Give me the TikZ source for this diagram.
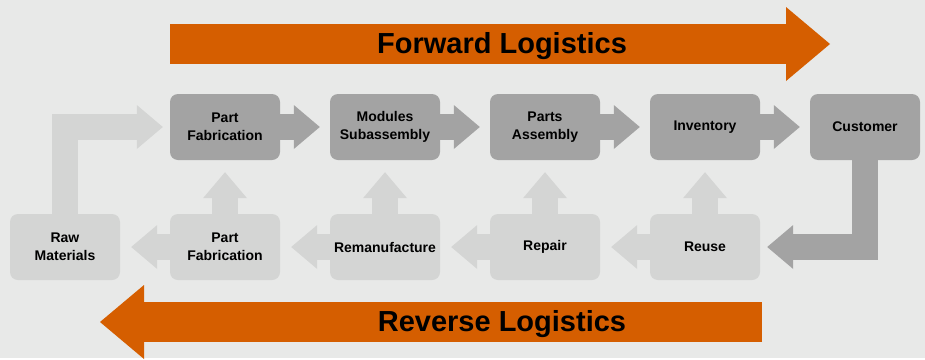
\documentclass[tikz,border=0pt]{standalone}
\usepackage{fontspec}
\setmainfont{Liberation Sans}
\usepackage{xcolor}
\usetikzlibrary{arrows.meta}
\definecolor{bgcol}{HTML}{E8E9E8}
\definecolor{darkbox}{HTML}{A3A3A3}
\definecolor{lightbox}{HTML}{D4D5D4}
\definecolor{orangearrow}{HTML}{D55E00}

\begin{document}
\begin{tikzpicture}[x=1pt,y=-1pt,
  fwdbox/.style={fill=darkbox,rounded corners=8pt,minimum width=110pt,minimum height=66pt,
    inner sep=0pt,align=center,font=\fontsize{14}{18}\selectfont\bfseries},
  revbox/.style={fwdbox,fill=lightbox},
  fatarrow/.style={line width=26pt,line join=miter,
    -{Triangle[width=44pt,length=26pt,line width'=0pt]}},
  darkflow/.style={fatarrow,draw=darkbox},
  lightflow/.style={fatarrow,draw=lightbox},
  bigarrow/.style={draw=orangearrow,line width=40pt,
    -{Triangle[width=74pt,length=44pt,line width'=0pt]}},
  banner/.style={anchor=base,font=\fontsize{29}{34}\selectfont\bfseries}]
\fill[bgcol] (0,0) rectangle (925,358);

\begin{scope}
    \coordinate (fwdstart) at (170,44);
    \coordinate (fwdend) at (830,44);
    \draw[bigarrow] (fwdstart) -- (fwdend);
    \node[banner] (fwdlabel) at (502,53) {Forward Logistics};

    \coordinate (revstart) at (762,322);
    \coordinate (revend) at (100,322);
    \draw[bigarrow] (revstart) -- (revend);
    \node[banner] (revlabel) at (502,331) {Reverse Logistics};
\end{scope}

\begin{scope}
    \node[fwdbox] (fab) at (225,127) {Part\\Fabrication};
    \node[fwdbox] (sub) at (385,127) {Modules\\Subassembly};
    \node[fwdbox] (asm) at (545,127) {Parts\\Assembly};
    \node[fwdbox] (inv) at (705,127) {Inventory};
    \node[fwdbox] (cust) at (865,127) {Customer};

    \draw[darkflow,shorten >=10pt] (fab.east) -- (sub.west);
    \draw[darkflow,shorten >=10pt] (sub.east) -- (asm.west);
    \draw[darkflow,shorten >=10pt] (asm.east) -- (inv.west);
    \draw[darkflow,shorten >=10pt] (inv.east) -- (cust.west);
\end{scope}

\begin{scope}
    \node[revbox] (raw) at (65,247) {Raw\\Materials};
    \node[revbox] (refab) at (225,247) {Part\\Fabrication};
    \node[revbox] (reman) at (385,247) {Remanufacture};
    \node[revbox] (repair) at (545,247) {Repair};
    \node[revbox] (reuse) at (705,247) {Reuse};

    \draw[darkflow,shorten >=7pt] (cust.south) |- (reuse.east);
    \draw[lightflow,shorten >=11pt] (reuse.west) -- (repair.east);
    \draw[lightflow,shorten >=11pt] (repair.west) -- (reman.east);
    \draw[lightflow,shorten >=11pt] (reman.west) -- (refab.east);
    \draw[lightflow,shorten >=11pt] (refab.west) -- (raw.east);
    \draw[lightflow,shorten >=7pt] (raw.north) |- (fab.west);

    \draw[lightflow,shorten >=12pt] (refab.north) -- (fab.south);
    \draw[lightflow,shorten >=12pt] (reman.north) -- (sub.south);
    \draw[lightflow,shorten >=12pt] (repair.north) -- (asm.south);
    \draw[lightflow,shorten >=12pt] (reuse.north) -- (inv.south);
\end{scope}
\end{tikzpicture}
\end{document}
